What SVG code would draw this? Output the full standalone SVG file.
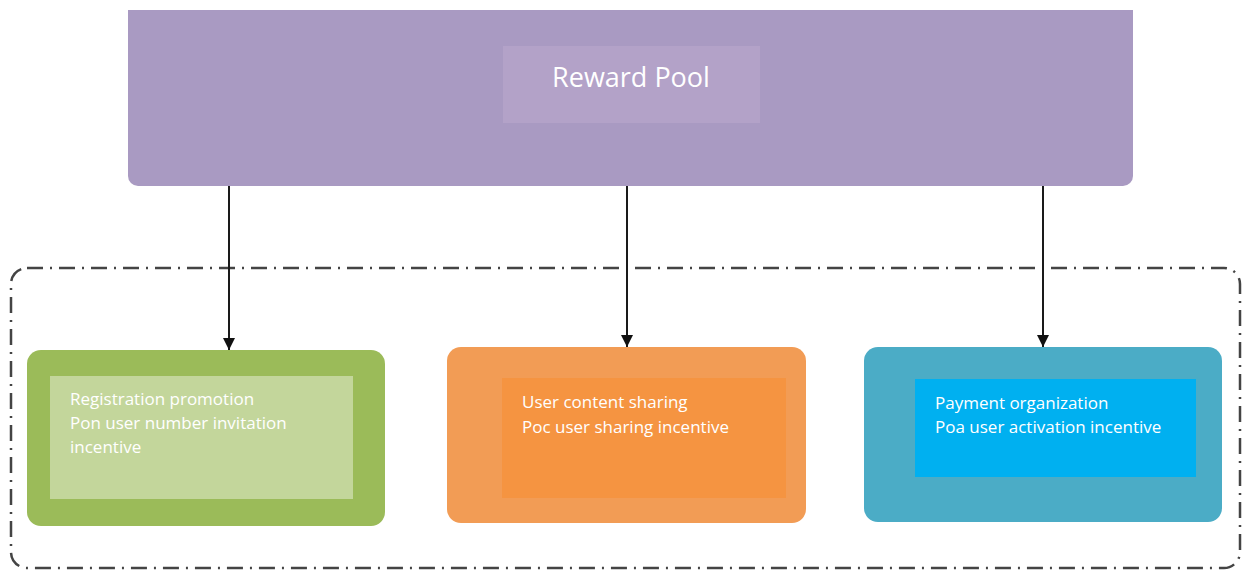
<svg xmlns="http://www.w3.org/2000/svg" width="1247" height="571" viewBox="0 0 1247 571">
<style>
.lbl{font-family:"Open Sans","Liberation Sans",sans-serif;fill:#ffffff;font-size:17px}
.title{font-family:"Open Sans","Liberation Sans",sans-serif;fill:#ffffff;font-size:27px}
.conn{stroke:#1a1a1a;stroke-width:2;fill:none}
</style>
<defs>
<marker id="arr" viewBox="0 0 10 10" refX="10" refY="5" markerWidth="12" markerHeight="12" markerUnits="userSpaceOnUse" orient="auto">
<path d="M0,0 L10,5 L0,10 z" fill="#111"/>
</marker>
</defs>
<rect width="1247" height="571" fill="#ffffff"/>
<g id="container">
<rect x="11" y="268" width="1229" height="300" rx="16" fill="none" stroke="#444" stroke-width="2.5" stroke-dasharray="16,7,2,7"/>
</g>
<g id="reward-pool">
<path d="M128,10 H1133 V176 A10,10 0 0 1 1123,186 H138 A10,10 0 0 1 128,176 Z" fill="#A99AC2"/>
<rect x="503" y="46" width="257" height="77" fill="#B3A2C8"/>
<text class="title" x="631" y="87" text-anchor="middle">Reward Pool</text>
</g>
<g id="connectors">
<line class="conn" x1="229" y1="186" x2="229" y2="350" marker-end="url(#arr)"/>
<line class="conn" x1="627" y1="186" x2="627" y2="347" marker-end="url(#arr)"/>
<line class="conn" x1="1043" y1="186" x2="1043" y2="347" marker-end="url(#arr)"/>
</g>
<g id="registration">
<rect x="27" y="350" width="358" height="176" rx="14" fill="#9BBB59"/>
<rect x="50" y="376" width="303" height="123" fill="#C3D69B"/>
<text class="lbl" x="70" y="405">Registration promotion</text>
<text class="lbl" x="70" y="429">Pon user number invitation</text>
<text class="lbl" x="70" y="453">incentive</text>
</g>
<g id="content-sharing">
<rect x="447" y="347" width="359" height="176" rx="14" fill="#F29C55"/>
<rect x="502" y="378" width="284" height="120" fill="#F59441"/>
<text class="lbl" x="522" y="408">User content sharing</text>
<text class="lbl" x="522" y="433">Poc user sharing incentive</text>
</g>
<g id="payment">
<rect x="864" y="347" width="358" height="175" rx="14" fill="#4BACC6"/>
<rect x="915" y="379" width="281" height="98" fill="#00B0F0"/>
<text class="lbl" x="935" y="409">Payment organization</text>
<text class="lbl" x="935" y="433">Poa user activation incentive</text>
</g>
</svg>
